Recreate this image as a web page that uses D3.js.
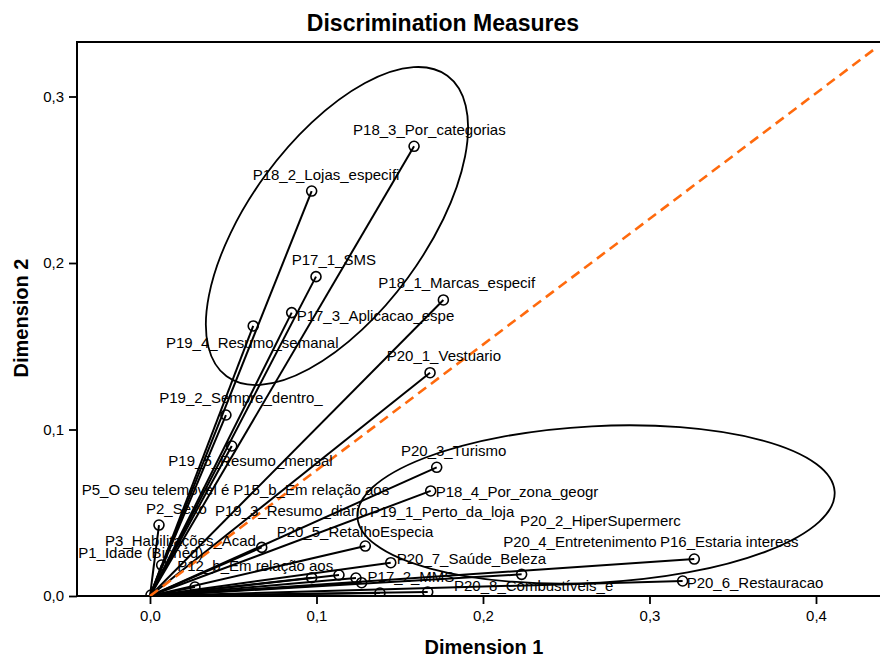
<!DOCTYPE html>
<html><head><meta charset="utf-8">
<script src="https://cdn.jsdelivr.net/npm/d3@7/dist/d3.min.js"></script>
<style>
body{margin:0;background:#fff;}
svg{display:block;font-family:"Liberation Sans",Arial,sans-serif;}
</style>
</head><body>
<svg id="chart" width="880" height="659"></svg>
<script>
// ---- data ----
const categories = [
  "P18_3_Por_categorias","P18_2_Lojas_especifi","P17_1_SMS","P18_1_Marcas_especif",
  "P17_3_Aplicacao_espe","P19_4_Resumo_semanal","P20_1_Vestuario","P19_2_Sempre_dentro_",
  "P19_5_Resumo_mensal","P20_3_Turismo","P18_4_Por_zona_geogr","P2_Sexo",
  "P3_Habilitações_Acad","P1_Idade (Binned)","P12_b_Em relação aos","P20_5_RetalhoEspecia",
  "P20_7_Saúde_Beleza","P17_2_MMS","P20_8_Combustíveis_e","P20_4_Entretenimento",
  "P16_Estaria interess","P20_6_Restauracao","P20_2_HiperSupermerc","P19_3_Resumo_diario",
  "P19_1_Perto_da_loja","P15_b_Em relação aos","P5_O seu telemovel é"
];
const dim1 = [
  0.1586,0.0971,0.0997,0.1762,
  0.0851,0.0620,0.1682,0.0456,
  0.0491,0.1722,0.1686,0.0054,
  0.0671,0.0070,0.0971,0.1293,
  0.1446,0.1271,0.1668,0.2232,
  0.3269,0.3199,0.1381,0.1135,
  0.1237,0.0270,0.0006
];
const dim2 = [
  0.2701,0.2432,0.1918,0.1778,
  0.1702,0.1622,0.1341,0.1087,
  0.0901,0.0773,0.0631,0.0426,
  0.0292,0.0186,0.0110,0.0300,
  0.0200,0.0080,0.0024,0.0130,
  0.0222,0.0090,0.0018,0.0126,
  0.0108,0.0054,0.0006
];
// label placement (pixels, left edge and vertical centre relative to the point)
const labelDx = [-61,-59,-24.3,-65, 5,-87.3,-43.3,-66.7, -63.4,-35.7,5,-13, -156.7,-83.4,-134.4,-88.6,
  6,6,26.3,-18.4, -34.3,4,140,-124, 14,38.3,-69.3];
const labelDy = [-16.3,-16.3,-16.7,-17, 2.6,17,-17.4,-17.5, 15,-16.3,1,-16.3, -6.3,-12.5,-12.4,-14,
  -4,-5.7,-6,-32.3, -17.3,1.8,-72,-64, -66,-97,-105];

const xTicks = [0, 0.1, 0.2, 0.3, 0.4];
const yTicks = [0, 0.1, 0.2, 0.3];
const xDomain = [-0.04384, 0.43844];
const yDomain = [0, 0.33273];
const refLineX = [0, 0.4366];
const refLineY = [0, 0.3296];
// hand-drawn ellipses (data units)
const ellipseCx = [0.1123, 0.2679];
const ellipseCy = [0.2222, 0.0550];
const ellipseRx = [0.1120, 0.1435];
const ellipseRy = [0.0527, 0.0470];
const ellipseAngle = [53.7, 3];

// ---- layout ----
const L = 77, R = 880, T = 42, B = 596;
const svg = d3.select("#chart");
const x = d3.scaleLinear().domain(xDomain).range([L, R]);
const y = d3.scaleLinear().domain(yDomain).range([B, T]);
const loc = d3.formatLocale({decimal: ",", thousands: ".", grouping: [3], currency: ["", "€"]});
const fmt = loc.format(".1f");

svg.append("defs").append("clipPath").attr("id","clip")
  .append("rect").attr("x", L).attr("y", T).attr("width", R - L + 20).attr("height", B - T);

// title
svg.append("text").attr("x", 443).attr("y", 31).attr("text-anchor","middle")
  .style("font-weight","bold").style("font-size","23px").text("Discrimination Measures");

// axes
const xAxis = svg.append("g").attr("transform", `translate(0,${B})`)
  .call(d3.axisBottom(x).tickValues(xTicks).tickSize(8).tickPadding(6).tickFormat(fmt));
const yAxis = svg.append("g").attr("transform", `translate(${L},0)`)
  .call(d3.axisLeft(y).tickValues(yTicks).tickSize(8).tickPadding(5).tickFormat(fmt));
[xAxis, yAxis].forEach(g => {
  g.select(".domain").remove();
  g.selectAll(".tick line").attr("stroke","#000").attr("stroke-width",1.8);
  g.selectAll(".tick text").style("font-size","15px").attr("fill","#000")
    .style("font-family","'Liberation Sans',Arial,sans-serif");
});

// frame
svg.append("path")
  .attr("d", `M${R + 5},${T}H${L}V${B}H${R + 5}`)
  .attr("fill","none").attr("stroke","#000").attr("stroke-width",2);

// axis titles
svg.append("text").attr("x", 484).attr("y", 654).attr("text-anchor","middle")
  .style("font-weight","bold").style("font-size","20px").text("Dimension 1");
svg.append("text").attr("transform","translate(28,318) rotate(-90)").attr("text-anchor","middle")
  .style("font-weight","bold").style("font-size","20px").text("Dimension 2");

const plot = svg.append("g").attr("clip-path","url(#clip)");

// ellipses
ellipseCx.forEach((cx, i) => {
  plot.append("ellipse")
    .attr("transform", `translate(${x(cx)},${y(ellipseCy[i])}) rotate(${-ellipseAngle[i]})`)
    .attr("rx", x(ellipseRx[i]) - x(0)).attr("ry", x(ellipseRy[i]) - x(0))
    .attr("fill","none").attr("stroke","#000").attr("stroke-width",1.8);
});

const pts = categories.map((c, i) => ({name: c, d1: dim1[i], d2: dim2[i], dx: labelDx[i], dy: labelDy[i]}));

// vectors
plot.selectAll("line.vec").data(pts).join("line").attr("class","vec")
  .attr("x1", x(0)).attr("y1", y(0))
  .attr("x2", d => x(d.d1)).attr("y2", d => y(d.d2))
  .attr("stroke","#000").attr("stroke-width",2);

// points
plot.selectAll("circle.pt").data(pts).join("circle").attr("class","pt")
  .attr("cx", d => x(d.d1)).attr("cy", d => y(d.d2)).attr("r", 5)
  .attr("fill","none").attr("stroke","#000").attr("stroke-width",1.6);

// reference line
plot.append("line")
  .attr("x1", x(refLineX[0])).attr("y1", y(refLineY[0]))
  .attr("x2", x(refLineX[1])).attr("y2", y(refLineY[1]))
  .attr("stroke","#ff6a0d").attr("stroke-width",2.6).attr("stroke-dasharray","10,6");

// labels
svg.append("g").selectAll("text").data(pts).join("text")
  .attr("x", d => x(d.d1) + d.dx).attr("y", d => y(d.d2) + d.dy + 5.3)
  .style("font-size","15px").attr("fill","#000").text(d => d.name);
</script>
</body></html>
